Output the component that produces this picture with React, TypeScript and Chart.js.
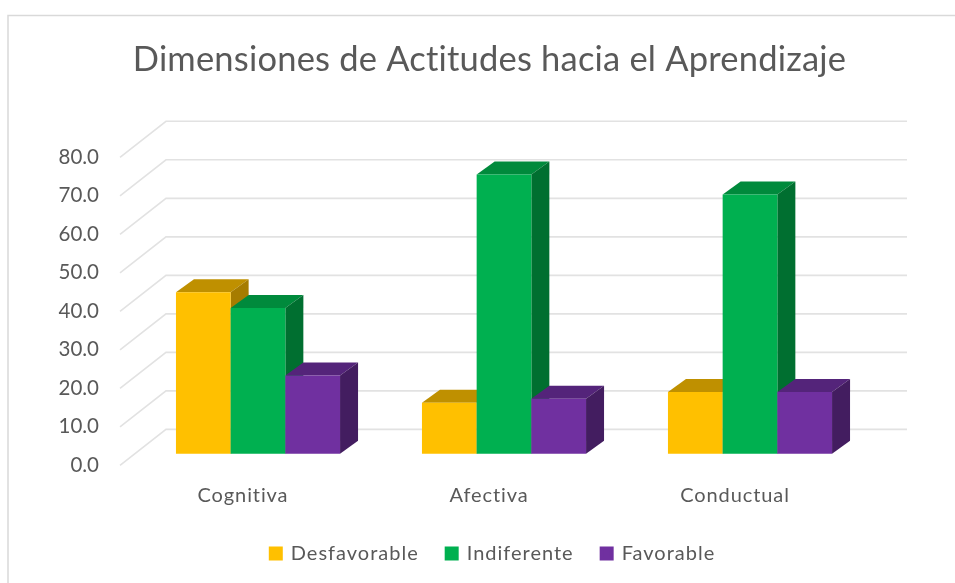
import React, { useEffect, useRef } from "react";
import { Chart, registerables } from "chart.js";

Chart.register(...registerables);

const titleText = "Dimensiones de Actitudes hacia el Aprendizaje";
const categories = ["Cognitiva", "Afectiva", "Conductual"];
const desfavorable = [41.9, 13.2, 16.0];
const indiferente = [37.8, 72.5, 67.3];
const favorable = [20.3, 14.3, 16.0];
const yTicks = [0, 10, 20, 30, 40, 50, 60, 70, 80];

const frontColors = ["#FFC000", "#00B050", "#7030A0"];
const topColors = ["#BF9000", "#008A3C", "#54247A"];
const sideColors = ["#A67C00", "#006F30", "#431D60"];

// oblique projection offsets
const WALL_DX = 46;
const WALL_DY = -36;
const BAR_SHIFT_X = 15;
const BAR_SHIFT_Y = -11.7;
const BAR_DX = 18;
const BAR_DY = -13;
const WALL_RIGHT = 907;

function poly(ctx: CanvasRenderingContext2D, pts: number[][], color: string) {
  ctx.fillStyle = color;
  ctx.beginPath();
  pts.forEach((p, i) => (i ? ctx.lineTo(p[0], p[1]) : ctx.moveTo(p[0], p[1])));
  ctx.closePath();
  ctx.fill();
}

function spaced(owner: any, method: string, ctx: any, spacing: string) {
  if (!owner || owner["__spaced" + method]) return;
  const orig = owner[method];
  owner[method] = function (...args: any[]) {
    const prev = ctx.letterSpacing;
    ctx.letterSpacing = spacing;
    const r = orig.apply(this, args);
    ctx.letterSpacing = prev;
    return r;
  };
  owner["__spaced" + method] = true;
}

const threeD = {
  id: "threeD",
  beforeLayout(chart: any) {
    spaced(chart.legend, "fit", chart.ctx, "1px");
    spaced(chart.legend, "draw", chart.ctx, "1px");
    spaced(chart.titleBlock, "draw", chart.ctx, "0.2px");
  },
  beforeDraw(chart: any) {
    const { ctx } = chart;
    spaced(chart.scales.x, "drawLabels", ctx, "0.9px");
    ctx.save();
    ctx.strokeStyle = "#D9D9D9";
    ctx.lineWidth = 1.5;
    ctx.beginPath();
    ctx.moveTo(8, 583);
    ctx.lineTo(8, 15.5);
    ctx.lineTo(955, 15.5);
    ctx.stroke();
    ctx.restore();
    if (chart.legend) {
      chart.legend.left += 3.5;
      chart.legend.right += 3.5;
    }
  },
  beforeDatasetsDraw(chart: any) {
    const { ctx, chartArea, scales } = chart;
    ctx.save();
    ctx.strokeStyle = "#E2E2E2";
    ctx.lineWidth = 1.6;
    yTicks.forEach((t) => {
      const y = scales.y.getPixelForValue(t);
      ctx.beginPath();
      ctx.moveTo(chartArea.left, y);
      ctx.lineTo(chartArea.left + WALL_DX, y + WALL_DY);
      ctx.lineTo(WALL_RIGHT, y + WALL_DY);
      ctx.stroke();
    });
    ctx.restore();
  },
  // Native pass is cancelled: series must paint left to right so each box hides the previous one's side.
  beforeDatasetDraw() {
    return false;
  },
  afterDatasetsDraw(chart: any) {
    const { ctx } = chart;
    [0, 1, 2].forEach((i) => {
      const meta = chart.getDatasetMeta(i);
      ctx.save();
      ctx.translate(BAR_SHIFT_X, BAR_SHIFT_Y);
      meta.data.forEach((bar: any) => {
        const l = bar.x - bar.width / 2;
        const r = bar.x + bar.width / 2;
        poly(ctx, [[l, bar.y], [l + BAR_DX, bar.y + BAR_DY], [r + BAR_DX, bar.y + BAR_DY], [r, bar.y]], topColors[i]);
        poly(ctx, [[r, bar.y], [r + BAR_DX, bar.y + BAR_DY], [r + BAR_DX, bar.base + BAR_DY], [r, bar.base]], sideColors[i]);
      });
      meta.controller.draw();
      ctx.restore();
    });
  },
};

export default function App() {
  const ref = useRef<HTMLCanvasElement>(null);
  useEffect(() => {
    document.body.style.margin = "0";
    const mk = (label: string, data: number[], i: number) => ({
      label,
      data,
      backgroundColor: frontColors[i],
      borderWidth: 0,
      categoryPercentage: 0.667,
      barPercentage: 1,
    });
    const chart = new Chart(ref.current!, {
      type: "bar",
      data: {
        labels: categories,
        datasets: [mk("Desfavorable", desfavorable, 0), mk("Indiferente", indiferente, 1), mk("Favorable", favorable, 2)],
      },
      plugins: [threeD],
      options: {
        animation: false,
        responsive: false,
        layout: { padding: { left: 24, right: 0, top: 39, bottom: 9.5 } },
        plugins: {
          tooltip: { enabled: false },
          title: {
            display: true,
            text: titleText,
            color: "#595959",
            font: { family: "Lato", size: 34.5, weight: "normal" },
            padding: { top: 0, bottom: 76.9 },
          },
          legend: {
            position: "bottom",
            labels: {
              // 10px box + 4px stroke paints a 14px swatch and sets the tighter swatch-to-text gap
              boxWidth: 10,
              boxHeight: 10,
              color: "#595959",
              padding: 28,
              font: { family: "Lato", size: 20 },
              generateLabels: (c: any) =>
                Chart.defaults.plugins.legend.labels.generateLabels(c).map((item: any) => ({
                  ...item,
                  lineWidth: 4,
                  strokeStyle: item.fillStyle,
                })),
            },
          },
        },
        scales: {
          x: {
            grid: { display: false },
            border: { display: false },
            ticks: { color: "#595959", font: { family: "Lato", size: 20 }, padding: 10.3, maxRotation: 0 },
            afterFit: (s: any) => { s.height = 50.1; },
          },
          y: {
            min: 0,
            max: 80,
            grid: { display: false },
            border: { display: false },
            afterBuildTicks: (s: any) => { s.ticks = yTicks.map((value) => ({ value })); },
            ticks: {
              color: "#595959",
              font: { family: "Lato", size: 20.5 },
              padding: 13,
              callback: (v: any) => Number(v).toFixed(1),
            },
            afterFit: (s: any) => { s.width = 96; },
          },
          yr: {
            position: "right",
            min: 0,
            max: 80,
            display: true,
            grid: { display: false },
            border: { display: false },
            ticks: { display: false },
            afterFit: (s: any) => { s.width = 97; },
          },
        },
      } as any,
    });
    return () => chart.destroy();
  }, []);
  return <canvas ref={ref} width={955} height={583} style={{ display: "block" }} />;
}
